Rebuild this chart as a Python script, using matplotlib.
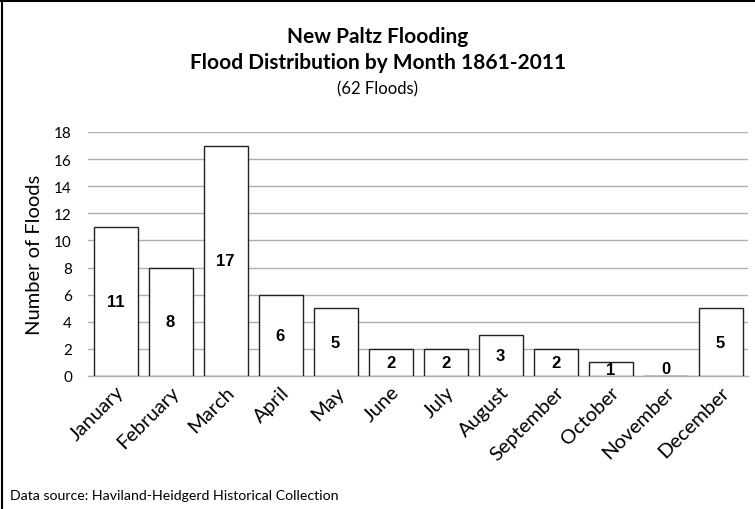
import matplotlib
matplotlib.use("Agg")
import matplotlib.pyplot as plt
from matplotlib.lines import Line2D

months = ["January", "February", "March", "April", "May", "June", "July",
          "August", "September", "October", "November", "December"]
floods = [11, 8, 17, 6, 5, 2, 2, 3, 2, 1, 0, 5]
y_ticks = [0, 2, 4, 6, 8, 10, 12, 14, 16, 18]

title_font = "Lato"
label_font = "Liberation Sans"

fig = plt.figure(figsize=(7.55, 5.10), dpi=100)
ax = fig.add_axes([88 / 755, 1 - 377 / 510, 660 / 755, 244 / 510])

x = list(range(len(months)))
bars = ax.bar(x, floods, width=0.8, color="white", edgecolor="#222222",
              linewidth=1.0, zorder=3)

ax.set_xlim(-0.5, len(months) - 0.5)
ax.set_ylim(0, 18)
ax.set_yticks(y_ticks)
ax.set_yticklabels([str(t) for t in y_ticks], fontfamily=title_font, fontsize=11)
ax.yaxis.grid(True, color="#b0b0b0", linewidth=1.0, zorder=0)
ax.tick_params(axis="y", length=0, pad=11.5)
ax.tick_params(axis="x", length=0, pad=5)
ax.set_xticks(x)
ax.set_xticklabels(months, rotation=45, ha="right", rotation_mode="anchor",
                   fontfamily=title_font, fontsize=14.5)
for side in ("top", "right", "left"):
    ax.spines[side].set_visible(False)
ax.spines["bottom"].set_color("#b0b0b0")
ax.spines["bottom"].set_linewidth(1.0)

ax.set_ylabel("Number of Floods", fontfamily=title_font, fontsize=14.5, labelpad=8)

# value labels centred in each bar
for xi, v in zip(x, floods):
    ypos = v / 2 if v > 0 else 0.55
    ax.text(xi, ypos, str(v), ha="center", va="center", fontfamily=label_font,
            fontweight="bold", fontsize=12, zorder=4, clip_on=True)

fig.text(0.5, 1 - 37 / 510, "New Paltz Flooding", ha="center", va="center",
         fontfamily=title_font, fontweight="bold", fontsize=15)
fig.text(0.5, 1 - 63 / 510, "Flood Distribution by Month 1861-2011", ha="center",
         va="center", fontfamily=title_font, fontweight="bold", fontsize=15)
fig.text(0.5, 1 - 89 / 510, "(62 Floods)", ha="center", va="center",
         fontfamily=title_font, fontsize=12)

fig.text(10 / 755, 1 - 496 / 510, "Data source: Haviland-Heidgerd Historical Collection",
         ha="left", va="center", fontfamily=title_font, fontsize=10.2)

# frame lines along the top and left edges
fig.add_artist(Line2D([0, 1], [1 - 1.5 / 510, 1 - 1.5 / 510], transform=fig.transFigure,
                      color="black", linewidth=1.5))
fig.add_artist(Line2D([2 / 755, 2 / 755], [0, 1], transform=fig.transFigure,
                      color="black", linewidth=1.5))

fig.savefig("out.png", dpi=100, facecolor="white")
